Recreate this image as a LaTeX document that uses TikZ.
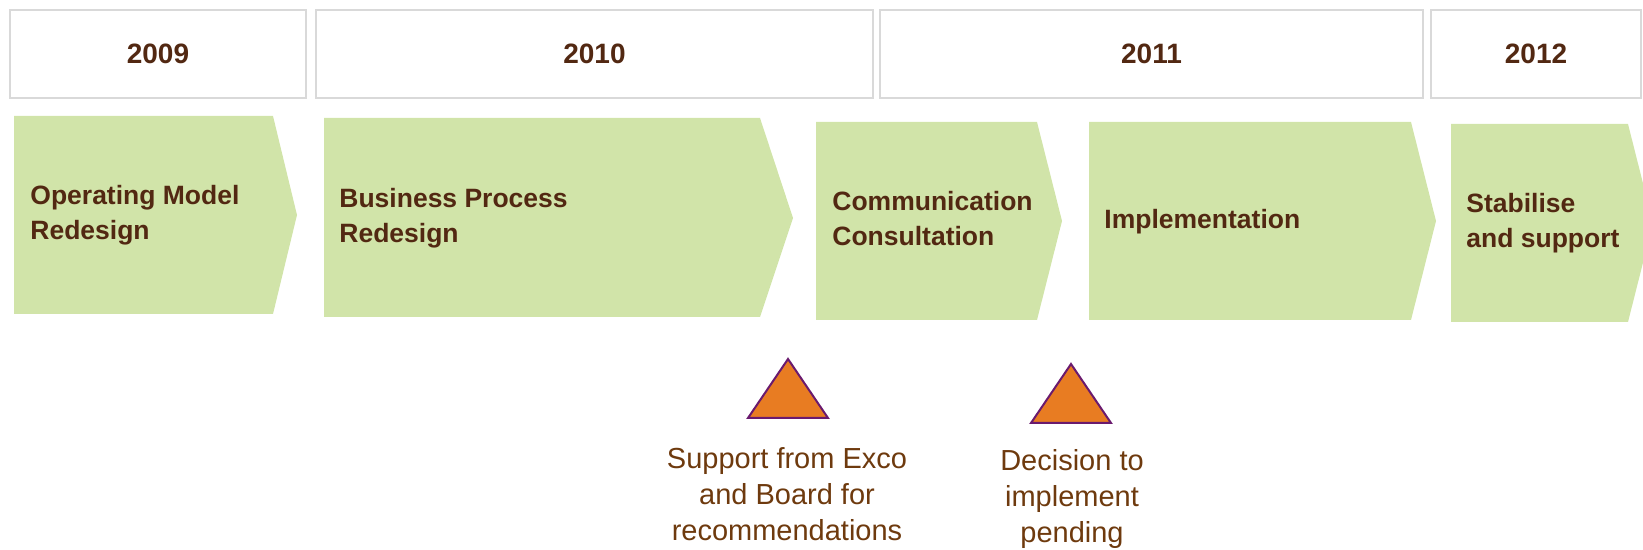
\documentclass[tikz,border=0pt]{standalone}
\usepackage{fontspec}
\setmainfont{Liberation Sans}
\usepackage{tikz}
\usetikzlibrary{calc}
\usepackage{xcolor}
\definecolor{myGreen}{RGB}{209,228,169}
\definecolor{myBrown}{RGB}{82,40,18}
\definecolor{myRust}{RGB}{110,58,14}
\definecolor{myOrange}{RGB}{232,124,34}
\definecolor{myPurple}{RGB}{106,26,110}
\definecolor{myFrame}{RGB}{217,217,217}
\tikzset{
  year box/.style={draw=myFrame, line width=0.8pt, fill=white, minimum height=44pt, inner sep=0pt,
    font=\fontsize{14}{17}\selectfont\bfseries, text=myBrown},
  phase/.style={fill=myGreen, draw=none},
  phase text/.style={anchor=base west, inner sep=0pt, align=left,
    font=\fontsize{13.25}{17.5}\selectfont\bfseries, text=myBrown},
  milestone/.style={fill=myOrange, draw=myPurple, line width=1pt, line join=miter},
  milestone text/.style={anchor=base, inner sep=0pt, align=center,
    font=\fontsize{14.5}{18}\selectfont, text=myRust},
}

\begin{document}
\begin{tikzpicture}[x=0.5pt, y=-0.5pt]

%%%%%%%%%%%%%%%%%%%%%%%%%%%%%%%%%%%%%%%%%%%%%%%%%%%%%%%%%%%%%% Setup
\coordinate (C) at (0, 0);
% page size of the picture
\useasboundingbox ($(C)+(0,0)$) rectangle ($(C)+(1643,550)$);

%%%%%%%%%%%%%%%%%%%%%%%%%%%%%%%%%%%%%%%%%%%%%%%%%%%%%%%%%%%%%% Years
\node[year box, minimum width=148pt] (y2009) at ($(C)+(158,54)$) {2009};
\node[year box, minimum width=278.5pt] (y2010) at ($(C)+(594.5,54)$) {2010};
\node[year box, minimum width=271.5pt] (y2011) at ($(C)+(1151.5,54)$) {2011};
\node[year box, minimum width=105pt] (y2012) at ($(C)+(1536,54)$) {2012};

%%%%%%%%%%%%%%%%%%%%%%%%%%%%%%%%%%%%%%%%%%%%%%%%%%%%%%%%%%%%%% Phases

% operating model
\fill[phase] ($(C)+(14,116)$) -- ($(C)+(273,116)$) -- ($(C)+(297,215)$) -- ($(C)+(273,314)$) -- ($(C)+(14,314)$) -- cycle;
% business process
\fill[phase] ($(C)+(324,118)$) -- ($(C)+(760,118)$) -- ($(C)+(793,218)$) -- ($(C)+(760,317)$) -- ($(C)+(324,317)$) -- cycle;
% communication
\fill[phase] ($(C)+(816,122)$) -- ($(C)+(1037,122)$) -- ($(C)+(1062,221)$) -- ($(C)+(1037,320)$) -- ($(C)+(816,320)$) -- cycle;
% implementation
\fill[phase] ($(C)+(1089,122)$) -- ($(C)+(1411,122)$) -- ($(C)+(1436,221)$) -- ($(C)+(1411,320)$) -- ($(C)+(1089,320)$) -- cycle;
% stabilise
\fill[phase] ($(C)+(1451,124)$) -- ($(C)+(1628,124)$) -- ($(C)+(1653,223)$) -- ($(C)+(1628,322)$) -- ($(C)+(1451,322)$) -- cycle;

% (base = last line)
\node[phase text] (opmodel) at ($(C)+(30,240)$) {Operating Model\\Redesign};
\node[phase text] (bizproc) at ($(C)+(339,243)$) {Business Process\\Redesign};
\node[phase text] (comms) at ($(C)+(832,246)$) {Communication\\Consultation};
\node[phase text] (implem) at ($(C)+(1104,229)$) {Implementation};
\node[phase text] (stabil) at ($(C)+(1466,248)$) {Stabilise\\and support};

%%%%%%%%%%%%%%%%%%%%%%%%%%%%%%%%%%%%%%%%%%%%%%%%%%%%%%%%%%%%%% Milestones
\filldraw[milestone] ($(C)+(788,359)$) -- ($(C)+(828,418)$) -- ($(C)+(748,418)$) -- cycle;
\filldraw[milestone] ($(C)+(1071,364)$) -- ($(C)+(1111,423)$) -- ($(C)+(1031,423)$) -- cycle;

\node[milestone text] (support) at ($(C)+(787,540)$) {Support from Exco\\and Board for\\recommendations};
\node[milestone text] (decision) at ($(C)+(1072,542)$) {Decision to\\implement\\pending};

\end{tikzpicture}
\end{document}
